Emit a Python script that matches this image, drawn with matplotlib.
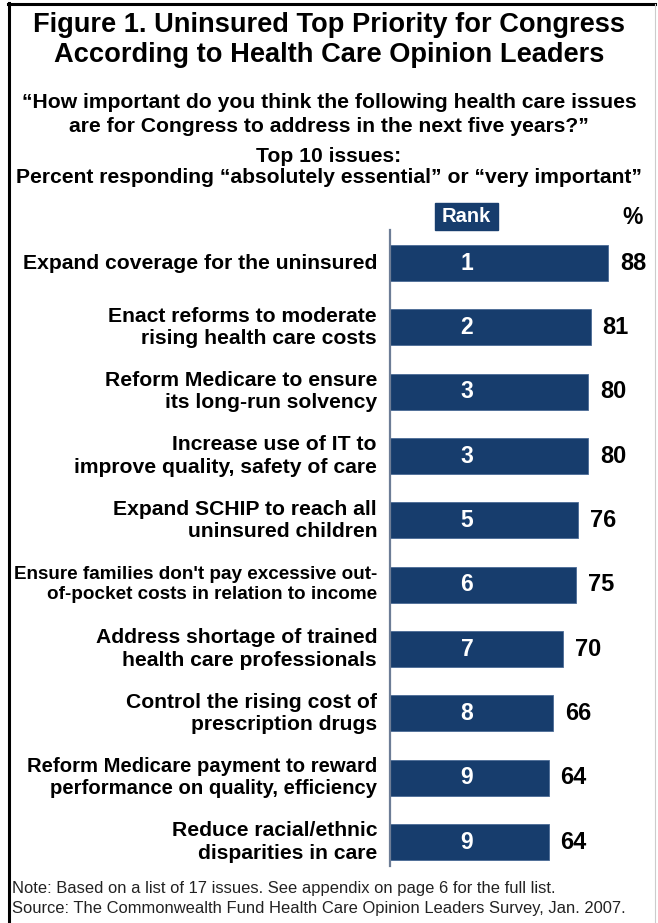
import matplotlib
matplotlib.use("Agg")
from matplotlib import pyplot as plt
from matplotlib.patches import Rectangle
from matplotlib.lines import Line2D

plt.rcParams['font.family'] = ['Liberation Sans', 'DejaVu Sans']

issues = [
    "Expand coverage for the uninsured",
    "Enact reforms to moderate\nrising health care costs",
    "Reform Medicare to ensure\nits long-run solvency",
    "Increase use of IT to\nimprove quality, safety of care",
    "Expand SCHIP to reach all\nuninsured children",
    "Ensure families don't pay excessive out-\nof-pocket costs in relation to income",
    "Address shortage of trained\nhealth care professionals",
    "Control the rising cost of\nprescription drugs",
    "Reform Medicare payment to reward\nperformance on quality, efficiency",
    "Reduce racial/ethnic\ndisparities in care",
]
ranks = [1, 2, 3, 3, 5, 6, 7, 8, 9, 9]
percents = [88, 81, 80, 80, 76, 75, 70, 66, 64, 64]

navy = "#173d6d"
W, H = 658, 923

fig = plt.figure(figsize=(W / 100, H / 100), dpi=100)

# axes placed in pixel terms: x 390..650, y 230..866
ax = fig.add_axes([390 / W, 1 - 866 / H, 260 / W, 636 / H])
pos = list(range(len(issues)))
ax.barh(pos, percents, height=0.56, color=navy, edgecolor="#4a6a95", linewidth=0.6)
ax.set_xlim(0, 260 / 2.477)
ax.set_ylim(9.373, -0.513)
for s in ["top", "right", "bottom"]:
    ax.spines[s].set_visible(False)
ax.spines["left"].set_color("#6d7d96")
ax.spines["left"].set_linewidth(1.6)
ax.set_xticks([])
ax.set_yticks([])

# the two longest labels are set a bit tighter in the original
small = {5: 13.6, 8: 14.6}
ytr = ax.get_yaxis_transform()
for i, (lab, r, p) in enumerate(zip(issues, ranks, percents)):
    ax.text(-0.05, i, lab, transform=ytr, ha="right", va="center",
            fontsize=small.get(i, 15.2), fontweight="bold", linespacing=1.22)
    ax.text(0.296, i, str(r), transform=ytr, ha="center", va="center",
            fontsize=16.5, fontweight="bold", color="white")
    ax.annotate(str(p), (p, i), xytext=(8.6, 0), textcoords="offset points",
                ha="left", va="center", fontsize=17, fontweight="bold")

# header: Rank box and %
fig.patches.append(Rectangle((435 / W, 1 - 230 / H), 63 / W, 27 / H,
                             transform=fig.transFigure, color=navy))
fig.text(466.5 / W, 1 - 216.5 / H, "Rank", ha="center", va="center",
         fontsize=14.5, fontweight="bold", color="white")
fig.text(633 / W, 1 - 218 / H, "%", ha="center", va="center",
         fontsize=16.5, fontweight="bold")

# titles
fig.text(0.5, 1 - 25 / H, "Figure 1. Uninsured Top Priority for Congress",
         ha="center", va="center", fontsize=19.6, fontweight="bold")
fig.text(0.5, 1 - 55 / H, "According to Health Care Opinion Leaders",
         ha="center", va="center", fontsize=19.6, fontweight="bold")
sub = dict(ha="center", va="center", fontsize=15.2, fontweight="bold")
fig.text(0.5, 1 - 103 / H, "\u201cHow important do you think the following health care issues", **sub)
fig.text(0.5, 1 - 126 / H, "are for Congress to address in the next five years?\u201d", **sub)
fig.text(0.5, 1 - 157 / H, "Top 10 issues:", **sub)
fig.text(0.5, 1 - 178 / H,
         "Percent responding \u201cabsolutely essential\u201d or \u201cvery important\u201d", **sub)

# notes
fig.text(12 / W, 1 - 888 / H,
         "Note: Based on a list of 17 issues. See appendix on page 6 for the full list.",
         ha="left", va="center", fontsize=11.9, color="#222222")
fig.text(12 / W, 1 - 909 / H,
         "Source: The Commonwealth Fund Health Care Opinion Leaders Survey, Jan. 2007.",
         ha="left", va="center", fontsize=11.9, color="#222222")

# frame
fig.lines.append(Line2D([9 / W, 9 / W], [0, 1 - 3 / H], transform=fig.transFigure,
                        color="black", linewidth=2.2))
fig.lines.append(Line2D([8 / W, 655 / W], [1 - 4 / H, 1 - 4 / H], transform=fig.transFigure,
                        color="black", linewidth=2.2))
fig.lines.append(Line2D([655 / W, 655 / W], [0, 1 - 4 / H], transform=fig.transFigure,
                        color="#cccccc", linewidth=0.8))

fig.savefig("out.png", dpi=100)
